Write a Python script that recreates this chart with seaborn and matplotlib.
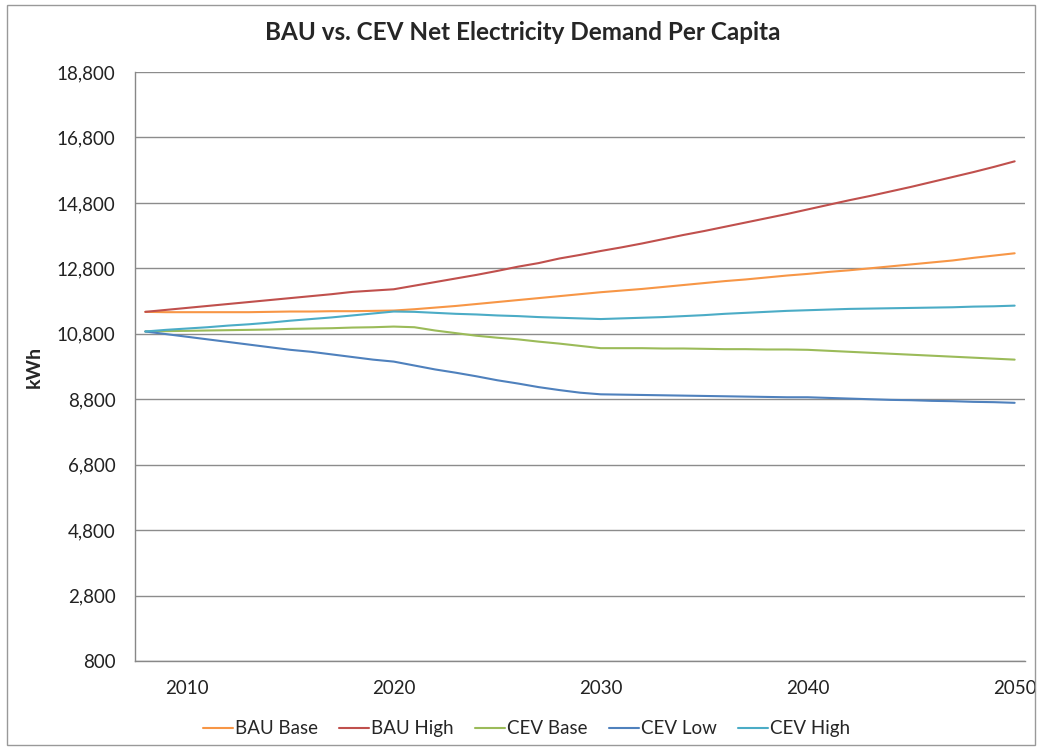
import numpy as np
import pandas as pd
import matplotlib
matplotlib.use("Agg")
import matplotlib.pyplot as plt
import seaborn as sns
from matplotlib.patches import Rectangle

years = list(range(2008, 2051))

bau_base = [11470, 11460, 11460, 11460, 11460, 11460, 11470, 11480, 11480, 11490,
            11490, 11500, 11510, 11550, 11600, 11650, 11710, 11770, 11830, 11890,
            11950, 12010, 12070, 12120, 12170, 12230, 12290, 12350, 12410, 12460,
            12520, 12580, 12630, 12690, 12740, 12800, 12860, 12920, 12980, 13040,
            13120, 13190, 13260]
bau_high = [11470, 11530, 11590, 11650, 11710, 11770, 11830, 11890, 11950, 12010,
            12080, 12120, 12160, 12270, 12380, 12490, 12600, 12720, 12850, 12960,
            13100, 13210, 13330, 13440, 13560, 13690, 13820, 13940, 14070, 14200,
            14330, 14460, 14600, 14740, 14880, 15010, 15150, 15290, 15440, 15590,
            15740, 15900, 16070]
cev_base = [10870, 10880, 10890, 10900, 10910, 10920, 10930, 10950, 10960, 10970,
            10990, 11000, 11020, 11000, 10900, 10820, 10740, 10680, 10630, 10560,
            10500, 10430, 10360, 10360, 10360, 10350, 10350, 10340, 10330, 10330,
            10320, 10320, 10310, 10280, 10250, 10220, 10190, 10160, 10130, 10100,
            10070, 10040, 10010]
cev_low = [10870, 10790, 10710, 10630, 10550, 10470, 10390, 10310, 10250, 10170,
           10090, 10010, 9950, 9830, 9710, 9610, 9500, 9380, 9280, 9170,
           9080, 9000, 8950, 8940, 8930, 8920, 8910, 8900, 8890, 8880,
           8870, 8860, 8860, 8840, 8820, 8800, 8780, 8770, 8750, 8740,
           8720, 8710, 8690]
cev_high = [10870, 10920, 10960, 11000, 11050, 11090, 11140, 11200, 11250, 11300,
            11360, 11420, 11480, 11470, 11440, 11410, 11390, 11360, 11340, 11310,
            11290, 11270, 11250, 11270, 11290, 11310, 11340, 11370, 11410, 11440,
            11470, 11500, 11520, 11540, 11560, 11570, 11580, 11590, 11600, 11610,
            11630, 11640, 11660]

series_names = ["BAU Base", "BAU High", "CEV Base", "CEV Low", "CEV High"]
series_values = [bau_base, bau_high, cev_base, cev_low, cev_high]
colors = ["#F79646", "#C0504D", "#9BBB59", "#4F81BD", "#4BACC6"]

y_ticks = [800, 2800, 4800, 6800, 8800, 10800, 12800, 14800, 16800, 18800]
x_labels = [2010, 2020, 2030, 2040, 2050]

frames = []
for name, vals in zip(series_names, series_values):
    frames.append(pd.DataFrame({"Year": years, "kWh": vals, "Series": name}))
df = pd.concat(frames, ignore_index=True)

sns.set_style("white")
plt.rcParams["font.family"] = ["Lato", "DejaVu Sans"]

fig = plt.figure(figsize=(10.42, 7.5), dpi=100)
ax = fig.add_axes([135 / 1042, 1 - 661 / 750, (1025 - 135) / 1042, (661 - 72) / 750])

sns.lineplot(data=df, x="Year", y="kWh", hue="Series", hue_order=series_names,
             palette=colors, linewidth=1.5, ax=ax, legend=True)

ax.set_xlim(2007.5, 2050.5)
ax.set_ylim(800, 18800)
ax.set_yticks(y_ticks)
ax.set_yticklabels([f"{v:,}" for v in y_ticks], fontsize=13.5, color="#222222")
ax.set_xticks(x_labels)
ax.set_xticklabels([str(v) for v in x_labels], fontsize=13.5, color="#222222")
ax.tick_params(axis="x", which="major", length=0, pad=14)
ax.set_xticks(np.arange(2007.5, 2051, 2), minor=True)
ax.tick_params(axis="x", which="minor", length=6, color="#888888", width=1, direction="out")
ax.tick_params(axis="y", which="major", length=5, color="#888888", width=1, direction="out", pad=9)

ax.grid(axis="y", color="#8c8c8c", linewidth=1)
ax.grid(axis="x", visible=False)
for s in ["top", "right"]:
    ax.spines[s].set_visible(False)
for s in ["left", "bottom"]:
    ax.spines[s].set_color("#888888")
    ax.spines[s].set_linewidth(1)

ax.set_xlabel("")
ax.set_ylabel("kWh", fontsize=14, fontweight="bold", labelpad=10)

handles, labels = ax.get_legend_handles_labels()
ax.legend(handles, labels, loc="upper center", bbox_to_anchor=(0.44, -0.072),
          ncol=5, frameon=False, fontsize=13.5, handlelength=1.6, handletextpad=0.1,
          columnspacing=1.15)

fig.text(523 / 1042, 1 - 33 / 750, "BAU vs. CEV Net Electricity Demand Per Capita",
         ha="center", va="center", fontsize=17.5, fontweight="bold")

fig.patches.append(Rectangle((7 / 1042, 5 / 750), 1028 / 1042, 740 / 750,
                             transform=fig.transFigure, fill=False,
                             edgecolor="#999999", linewidth=1))

fig.savefig("out.png", dpi=100)
